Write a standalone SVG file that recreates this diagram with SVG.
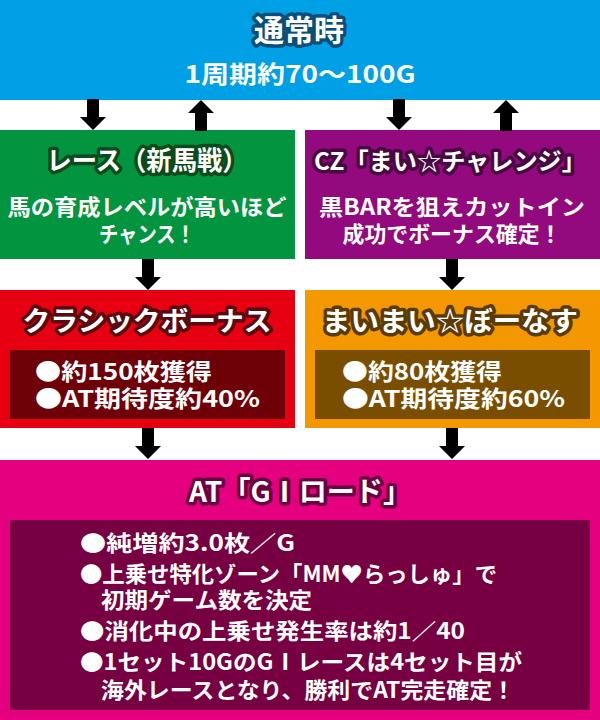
<svg xmlns="http://www.w3.org/2000/svg" width="600" height="720" viewBox="0 0 600 720">
<style>
text{font-family:"Noto Sans CJK JP","Noto Sans",sans-serif;font-weight:bold;fill:#fff}
.t{stroke-width:7;stroke-linejoin:round;paint-order:stroke}
.c{text-anchor:middle}
.arrow{fill:#000}
</style>
<defs>
<polygon id="dn" points="-6,0 6,0 6,18 13,18 0,31 -13,18 -6,18"/>
<polygon id="up" points="0,0 13,13 6,13 6,31 -6,31 -6,13 -13,13"/>
</defs>
<rect width="600" height="720" fill="#fff"/>

<g id="normal">
<rect x="0" y="0" width="600" height="100" fill="#00A0E6"/>
<text class="t c" x="299" y="41" font-size="30" stroke="#0B4F78" textLength="90" lengthAdjust="spacingAndGlyphs">通常時</text>
<text class="c" x="300" y="83" font-size="24" textLength="231" lengthAdjust="spacingAndGlyphs">1周期約70～100G</text>
</g>

<g id="race">
<rect x="0" y="130" width="295" height="129" fill="#03943F"/>
<text class="t c" x="147" y="170" font-size="26" stroke="#0B4A1C" textLength="201" lengthAdjust="spacingAndGlyphs">レース（新馬戦）</text>
<text class="c" x="147" y="215" font-size="22" textLength="279" lengthAdjust="spacingAndGlyphs">馬の育成レベルが高いほど</text>
<text class="c" x="147" y="242" font-size="22" textLength="96" lengthAdjust="spacingAndGlyphs">チャンス！</text>
</g>

<g id="cz">
<rect x="305" y="130" width="295" height="129" fill="#920A7E"/>
<text class="t c" x="450" y="170" font-size="24" stroke="#4A0840" textLength="272" lengthAdjust="spacingAndGlyphs">CZ「まい☆チャレンジ」</text>
<text class="c" x="452" y="215" font-size="22" textLength="266" lengthAdjust="spacingAndGlyphs">黒BARを狙えカットイン</text>
<text class="c" x="452" y="242" font-size="22" textLength="219" lengthAdjust="spacingAndGlyphs">成功でボーナス確定！</text>
</g>

<g id="classic">
<rect x="0" y="290" width="295" height="138" fill="#E60012"/>
<rect x="10" y="350" width="275" height="69" fill="#6E0008"/>
<text class="t c" x="147" y="331" font-size="27" stroke="#5A0A0E" textLength="249" lengthAdjust="spacingAndGlyphs">クラシックボーナス</text>
<text x="35" y="380" font-size="23" textLength="177" lengthAdjust="spacingAndGlyphs">●約150枚獲得</text>
<text x="35" y="407" font-size="23" textLength="225" lengthAdjust="spacingAndGlyphs">●AT期待度約40%</text>
</g>

<g id="maimai">
<rect x="305" y="290" width="295" height="138" fill="#F39800"/>
<rect x="315" y="350" width="275" height="69" fill="#7A4E00"/>
<text class="t c" x="450" y="331" font-size="27" stroke="#5A3A06" textLength="256" lengthAdjust="spacingAndGlyphs">まいまい☆ぼーなす</text>
<text x="342" y="380" font-size="23" textLength="160" lengthAdjust="spacingAndGlyphs">●約80枚獲得</text>
<text x="342" y="407" font-size="23" textLength="223" lengthAdjust="spacingAndGlyphs">●AT期待度約60%</text>
</g>

<g id="at">
<rect x="0" y="460" width="600" height="260" fill="#E4007F"/>
<rect x="10" y="520" width="580" height="190" fill="#760042"/>
<text class="t c" x="300" y="502" font-size="28" stroke="#6A0040" textLength="222" lengthAdjust="spacingAndGlyphs">AT「GⅠロード」</text>
<text x="80" y="551" font-size="22" textLength="215" lengthAdjust="spacingAndGlyphs">●純増約3.0枚／G</text>
<text x="80" y="582" font-size="22" textLength="417" lengthAdjust="spacingAndGlyphs">●上乗せ特化ゾーン「MM♥らっしゅ」で</text>
<text x="101" y="608" font-size="22" textLength="211" lengthAdjust="spacingAndGlyphs">初期ゲーム数を決定</text>
<text x="80" y="639" font-size="22" textLength="385" lengthAdjust="spacingAndGlyphs">●消化中の上乗せ発生率は約1／40</text>
<text x="80" y="670" font-size="22" textLength="442" lengthAdjust="spacingAndGlyphs">●1セット10GのGⅠレースは4セット目が</text>
<text x="101" y="698" font-size="22" textLength="414" lengthAdjust="spacingAndGlyphs">海外レースとなり、勝利でAT完走確定！</text>
</g>

<g id="connectors" class="arrow">
<use href="#dn" x="93" y="99"/>
<use href="#up" x="201" y="100"/>
<use href="#dn" x="399" y="99"/>
<use href="#up" x="506" y="100"/>
<use href="#dn" x="148" y="259"/>
<use href="#dn" x="452" y="259"/>
<use href="#dn" x="148" y="428"/>
<use href="#dn" x="452" y="428"/>
</g>
</svg>
